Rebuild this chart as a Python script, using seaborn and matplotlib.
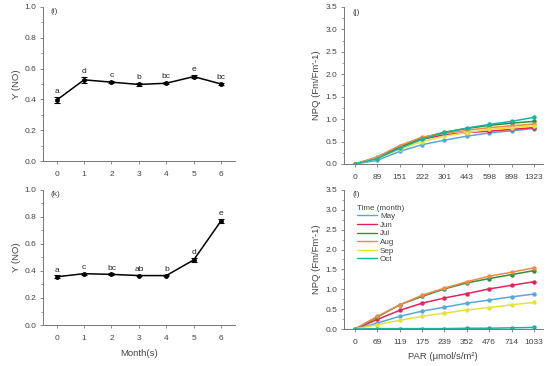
import numpy as np
import pandas as pd
import matplotlib
matplotlib.use("Agg")
import matplotlib.pyplot as plt
from matplotlib.ticker import MultipleLocator, AutoMinorLocator
import seaborn as sns

# ---- data ----
months = [0, 1, 2, 3, 4, 5, 6]
yno_i = [0.395, 0.527, 0.512, 0.497, 0.505, 0.548, 0.500]
err_i = [0.020, 0.020, 0.008, 0.008, 0.008, 0.012, 0.008]
let_i = ["a", "d", "c", "b", "bc", "e", "bc"]

yno_k = [0.357, 0.380, 0.375, 0.366, 0.366, 0.482, 0.772]
err_k = [0.012, 0.008, 0.008, 0.006, 0.006, 0.015, 0.015]
let_k = ["a", "c", "bc", "ab", "b", "d", "e"]

series_names = ["May", "Jun", "Jul", "Aug", "Sep", "Oct"]
colors = ["#5aa7dc", "#e3235a", "#2f8f3c", "#f08a4b", "#e6e23a", "#16b3a3"]

par_j = ["0", "89", "151", "222", "301", "443", "598", "898", "1323"]
npq_j_may = [0, 0.08, 0.28, 0.43, 0.53, 0.62, 0.69, 0.74, 0.79]
npq_j_jun = [0, 0.14, 0.38, 0.55, 0.65, 0.70, 0.73, 0.77, 0.81]
npq_j_jul = [0, 0.13, 0.37, 0.58, 0.71, 0.79, 0.86, 0.91, 0.95]
npq_j_aug = [0, 0.16, 0.41, 0.60, 0.68, 0.75, 0.81, 0.85, 0.89]
npq_j_sep = [0, 0.12, 0.33, 0.50, 0.62, 0.70, 0.77, 0.81, 0.85]
npq_j_oct = [0, 0.12, 0.35, 0.55, 0.70, 0.80, 0.88, 0.95, 1.04]

par_l = ["0", "69", "119", "175", "239", "352", "476", "714", "1033"]
npq_l_may = [0, 0.15, 0.32, 0.45, 0.55, 0.65, 0.73, 0.81, 0.88]
npq_l_jun = [0, 0.24, 0.47, 0.65, 0.78, 0.89, 1.01, 1.10, 1.19]
npq_l_jul = [0, 0.30, 0.61, 0.82, 1.01, 1.16, 1.27, 1.37, 1.47]
npq_l_aug = [0, 0.32, 0.61, 0.85, 1.03, 1.19, 1.33, 1.43, 1.54]
npq_l_sep = [0, 0.11, 0.22, 0.32, 0.40, 0.48, 0.54, 0.61, 0.67]
npq_l_oct = [0, 0.01, 0.01, 0.01, 0.01, 0.02, 0.02, 0.03, 0.04]

sns.set_style("ticks")
plt.rcParams["font.family"] = ["Liberation Sans", "DejaVu Sans"]
FS = 6.0
LFS = 6.8
TXT = "#444444"
SP = "#777777"

fig = plt.figure(figsize=(5.5, 3.66), dpi=100)
ax_i = fig.add_axes([0.078, 0.560, 0.349, 0.421])
ax_k = fig.add_axes([0.078, 0.112, 0.349, 0.369])
ax_j = fig.add_axes([0.625, 0.552, 0.362, 0.429])
ax_l = fig.add_axes([0.625, 0.101, 0.362, 0.380])


def style(ax, ymax, ymaj):
    sns.despine(ax=ax)
    for s in ["left", "bottom"]:
        ax.spines[s].set_color(SP)
        ax.spines[s].set_linewidth(0.7)
    ax.set_ylim(0, ymax)
    ax.yaxis.set_major_locator(MultipleLocator(ymaj))
    ax.yaxis.set_minor_locator(AutoMinorLocator(2))
    ax.tick_params(axis="both", which="major", labelsize=FS, colors=SP,
                   labelcolor=TXT, length=2.5, width=0.6, pad=2)
    ax.tick_params(axis="y", which="minor", colors=SP, length=1.5, width=0.5)
    ax.set_xlabel("")
    ax.set_ylabel("")


def left_panel(ax, vals, errs, letters, tag):
    df = pd.DataFrame({"m": months, "v": vals})
    ax.errorbar(months, vals, yerr=errs, fmt="none", ecolor="black",
                elinewidth=0.8, capsize=2.2, capthick=0.8, zorder=3)
    sns.lineplot(data=df, x="m", y="v", ax=ax, color="black", marker="o",
                 markersize=3.5, linewidth=1.1, markeredgewidth=0, zorder=4)
    for m, v, e, t in zip(months, vals, errs, letters):
        ax.text(m, v + e + 0.012, t, ha="center", va="bottom", fontsize=FS,
                color="#222222")
    style(ax, 1.0, 0.2)
    ax.set_xlim(-0.5, 6.5)
    ax.set_xticks(months)
    ax.set_ylabel("Y (NO)", fontsize=LFS, color=TXT, labelpad=3)
    ax.text(0.04, 0.99, tag, transform=ax.transAxes, fontsize=FS,
            color=TXT, va="top", ha="left")


left_panel(ax_i, yno_i, err_i, let_i, "(i)")
left_panel(ax_k, yno_k, err_k, let_k, "(k)")
ax_k.set_xlabel("Month(s)", fontsize=LFS, color=TXT, labelpad=5)
ax_i.tick_params(axis="x", pad=5)
ax_k.tick_params(axis="x", pad=5)


def right_panel(ax, par, data, tag, legend=False):
    rows = []
    for name, vals in zip(series_names, data):
        for i, v in enumerate(vals):
            rows.append({"pos": i, "npq": v, "Time (month)": name})
    df = pd.DataFrame(rows)
    sns.lineplot(data=df, x="pos", y="npq", hue="Time (month)",
                 hue_order=series_names, palette=colors, marker="o",
                 markersize=3.2, markeredgewidth=0, linewidth=1.1,
                 ax=ax, legend=legend)
    style(ax, 3.5, 0.5)
    ax.set_xlim(-0.5, 8.4)
    ax.set_xticks(range(len(par)))
    ax.set_xticklabels(par)
    ax.tick_params(axis="x", pad=5)
    ax.set_ylabel("NPQ (Fm/Fm'-1)", fontsize=LFS, color=TXT, labelpad=3)
    ax.text(0.045, 0.99, tag, transform=ax.transAxes, fontsize=FS,
            color=TXT, va="top", ha="left")
    if legend:
        leg = ax.legend(title="Time (month)", loc="upper left",
                        bbox_to_anchor=(0.04, 0.93), frameon=False,
                        fontsize=FS - 0.2, title_fontsize=FS - 0.2,
                        handlelength=2.6, labelspacing=0.12, borderpad=0.1,
                        handletextpad=0.3)
        leg._legend_box.align = "left"
        for line in leg.get_lines():
            line.set_marker("")
            line.set_linewidth(1.0)
        for t in leg.get_texts():
            t.set_color(TXT)
        leg.get_title().set_color(TXT)


right_panel(ax_j, par_j, [npq_j_may, npq_j_jun, npq_j_jul, npq_j_aug,
                          npq_j_sep, npq_j_oct], "(j)")
right_panel(ax_l, par_l, [npq_l_may, npq_l_jun, npq_l_jul, npq_l_aug,
                          npq_l_sep, npq_l_oct], "(l)", legend=True)
ax_l.set_xlabel("PAR (\u03bcmol/s/m\u00b2)", fontsize=LFS, color=TXT,
                labelpad=4)

fig.savefig("out.png", dpi=100)
